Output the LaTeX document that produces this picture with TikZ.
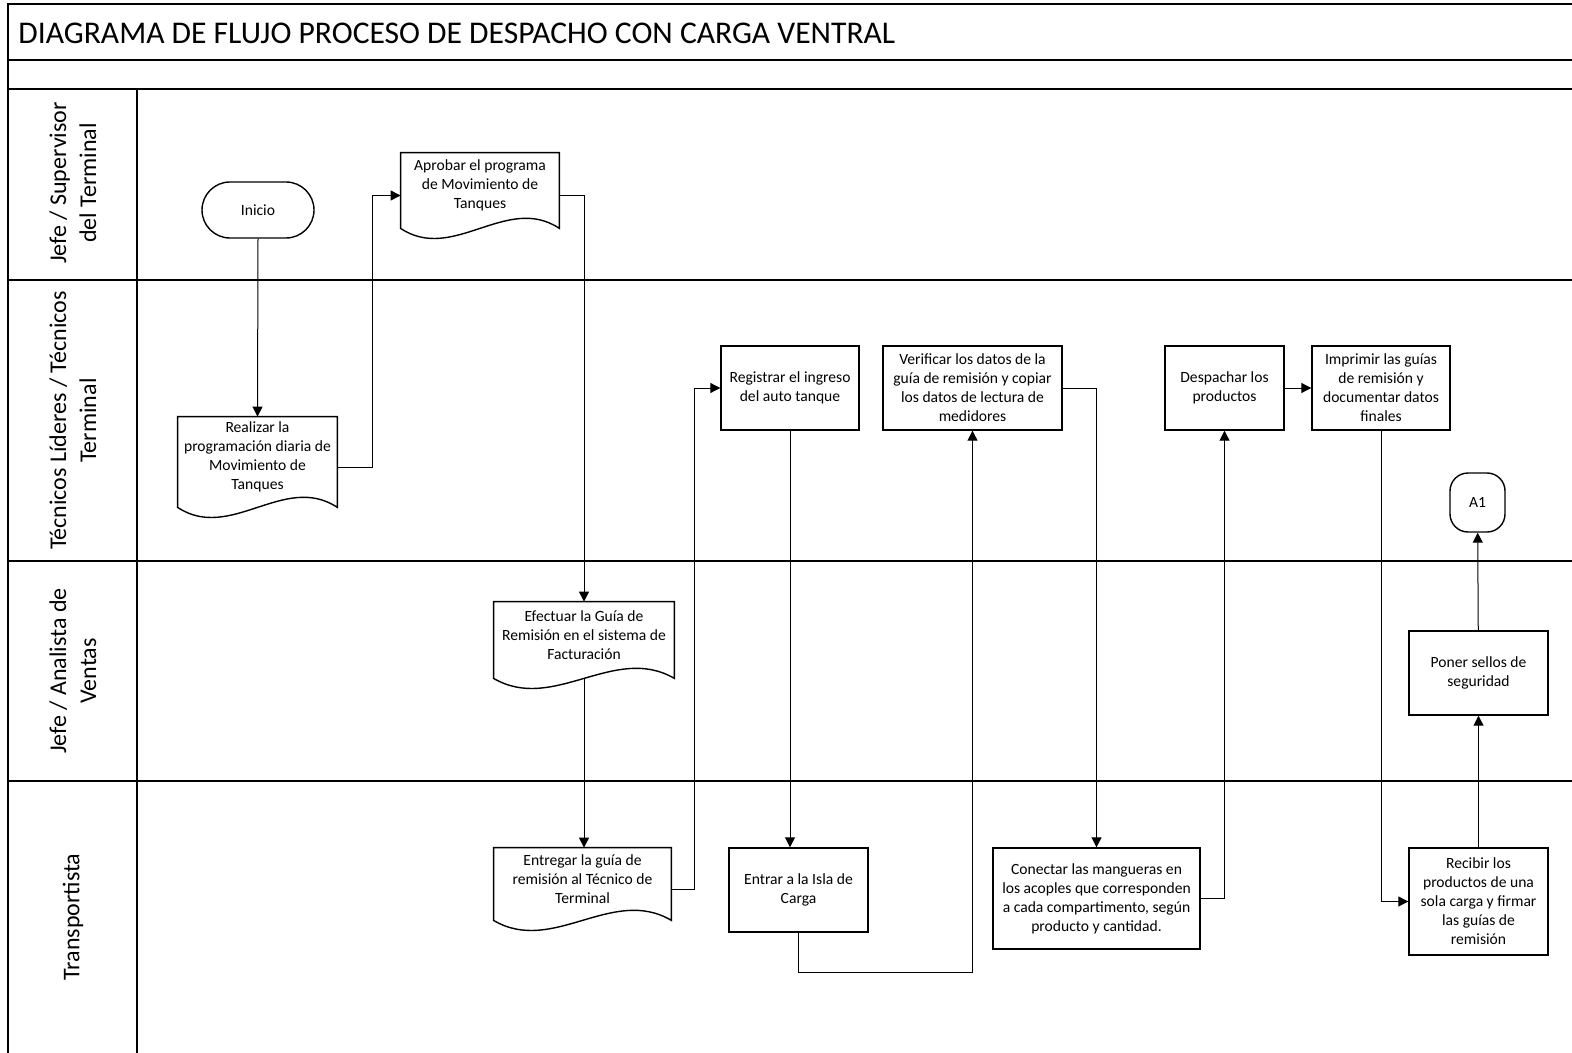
\documentclass[tikz,border=0pt]{standalone}
\usepackage{fontspec}
\setmainfont{Carlito}
\usetikzlibrary{arrows.meta, calc}
\tikzset{
	caja/.style = {draw, line width=0.7pt, align=center, inner sep=2pt, font=\fontsize{7.8}{9.5}\selectfont},
	docu/.style = {align=center, inner sep=2pt, font=\fontsize{7.8}{9.5}\selectfont},
	flecha/.style = {-{Triangle[length=5pt, width=5pt]}, line width=0.5pt},
	carril/.style = {rotate=90, align=center, font=\fontsize{12}{15}\selectfont},
	linea/.style = {line width=1pt},
}

\begin{document}
\begin{tikzpicture}[x=0.5pt, y=-0.5pt]
			\def\ancho{1572};
			\def\alto{1053};

			\useasboundingbox (0,0) rectangle (\ancho,\alto);

			\draw[linea] (8,\alto) -- (8,4) -- (\ancho,4);
			\foreach \y in {60,89,280,561,781}
				\draw[linea] (8,\y) -- (\ancho,\y);
			\draw[linea] (137,89) -- (137,\alto);

			\node[anchor=west, inner sep=0pt, font=\fontsize{15.8}{18}\selectfont] (titulo) at (18,33) {DIAGRAMA DE FLUJO PROCESO DE DESPACHO CON CARGA VENTRAL};

			\node[carril] (jefe) at (73,183) {Jefe / Supervisor\\del Terminal};
			\node[carril] (tecnicos) at (73,420.5) {Técnicos Líderes / Técnicos\\Terminal};
			\node[carril] (ventas) at (73,671) {Jefe / Analista de\\Ventas};
			\node[carril] (transp) at (73,917) {Transportista};

			\node[caja, rounded corners=14pt, minimum width=56pt, minimum height=28pt] (inicio) at (258,210) {Inicio};
			\node[docu, minimum width=79pt, minimum height=32.5pt] (aprobar) at (480,185.5) {Aprobar el programa\\de Movimiento de\\Tanques};
			\node[docu, minimum width=79.5pt, minimum height=40pt] (realizar) at (257.5,457) {Realizar la\\programación diaria de\\Movimiento de\\Tanques};
			\node[docu, minimum width=90pt, minimum height=33pt] (efectuar) at (584,635) {Efectuar la Guía de\\Remisión en el sistema de\\Facturación};
			\node[docu, minimum width=88.5pt, minimum height=31pt] (entregar) at (582.5,879) {Entregar la guía de\\remisión al Técnico de\\Terminal};
			\node[caja, minimum width=69pt, minimum height=42pt] (registrar) at (790,388) {Registrar el ingreso\\del auto tanque};
			\node[caja, minimum width=89.5pt, minimum height=42pt] (verificar) at (972.5,388) {Verificar los datos de la\\guía de remisión y  copiar\\los datos de lectura de\\medidores};
			\node[caja, minimum width=59.5pt, minimum height=42pt] (despachar) at (1224.5,388) {Despachar los\\productos};
			\node[caja, minimum width=69pt, minimum height=42pt] (imprimir) at (1381,388) {Imprimir las guías\\de remisión y\\documentar datos\\finales};
			\node[caja, rounded corners=9pt, minimum width=27.5pt, minimum height=29.5pt] (a1) at (1477.5,502.5) {A1};
			\node[caja, minimum width=69.5pt, minimum height=42pt] (poner) at (1478.5,673) {Poner sellos de\\seguridad};
			\node[caja, minimum width=69.5pt, minimum height=42pt] (entrar) at (798.5,890) {Entrar a la Isla de\\Carga};
			\node[caja, minimum width=103.5pt, minimum height=50.5pt] (conectar) at (1096.5,898.5) {Conectar las mangueras en\\los acoples que corresponden\\a cada compartimento, según\\producto y cantidad.};
			\node[caja, minimum width=69.5pt, minimum height=53.5pt] (recibir) at (1478.5,901.5) {Recibir los\\productos de una\\sola carga  y firmar\\las guías de\\remisión};

			\foreach \n/\cx in {aprobar/26.3, realizar/26.5, efectuar/30, entregar/29.5}
				\draw[line width=0.7pt] (\n.north west) -- (\n.north east) -- ([yshift=-5pt]\n.south east) .. controls +(-\cx pt,17.5pt) and +(\cx pt,-17.5pt) .. ([yshift=-5pt]\n.south west) -- cycle;

			\draw[flecha] (inicio.south) -- (realizar.north);
			\draw[flecha] ([yshift=-5pt]realizar.east) -- ++(35,0) |- ([yshift=-5pt]aprobar.west);
			\draw[flecha] ([yshift=-5pt]aprobar.east) -| (efectuar.north);
			\draw[flecha] ([yshift=-5pt]efectuar.south) -- (efectuar.south |- entregar.north);
			\draw[flecha] ([yshift=-5pt]entregar.east) -- ++(23,0) |- (registrar.west);
			\draw[flecha] (registrar.south) -- (registrar.south |- entrar.north);
			\draw[flecha] (entrar.south) -- ++(0,40) -| (verificar.south);
			\draw[flecha] (verificar.east) -| (conectar.north);
			\draw[flecha] (conectar.east) -| (despachar.south);
			\draw[flecha] (despachar) -- (imprimir);
			\draw[flecha] (imprimir.south) |- (recibir.west);
			\draw[flecha] (recibir) -- (poner);
			\draw[flecha] (poner) -- (a1);
		\end{tikzpicture}
\end{document}
